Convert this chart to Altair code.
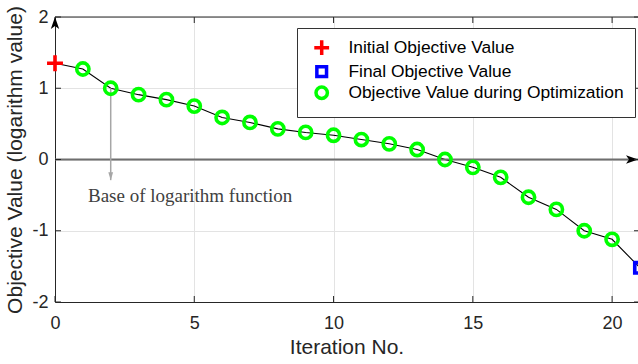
import altair as alt
import pandas as pd

iterations = list(range(22))
objective = [1.35, 1.27, 1.00, 0.91, 0.84, 0.75, 0.59, 0.52, 0.43, 0.38, 0.34,
             0.28, 0.22, 0.14, 0.00, -0.11, -0.25, -0.53, -0.70, -1.00, -1.12, -1.52]
series_names = ["Initial Objective Value", "Final Objective Value",
                "Objective Value during Optimization"]
x_ticks = [0, 5, 10, 15, 20]
y_ticks = [-2, -1, 0, 1, 2]
x_domain = [0, 20.93]
y_domain = [-2, 2]

# annotation values
base_arrow_x = [2]
base_arrow_y = [1.0, -0.29]
base_text = ["Base of logarithm function"]
base_text_xy = [4.85, -0.51]
zero_arrow_x = [0, 20.93]

font = "Liberation Sans"
axis_col = "#262626"

def series_of(i):
    if i == 0:
        return series_names[0]
    if i == len(iterations) - 1:
        return series_names[1]
    return series_names[2]

df = pd.DataFrame({"iter": iterations, "obj": objective,
                   "series": [series_of(i) for i in iterations]})

xs = alt.Scale(domain=x_domain, nice=False, zero=False)
ys = alt.Scale(domain=y_domain, nice=False)

W, H = 583, 285

base = alt.Chart(df)

line = base.mark_line(color="black", strokeWidth=1.1).encode(
    x=alt.X("iter:Q", scale=xs,
            axis=alt.Axis(values=x_ticks, title="Iteration No.", grid=True,
                          labelExpr="toString(datum.value)", labelFlush=False,
                          gridColor="#e3e3e3", tickSize=0, domainColor=axis_col,
                          labelFont=font, labelFontSize=18, labelColor=axis_col,
                          titleFont=font, titleFontSize=21, titleColor=axis_col,
                          titleFontWeight="normal", labelPadding=12, titlePadding=4)),
    y=alt.Y("obj:Q", scale=ys,
            axis=alt.Axis(values=y_ticks, title="Objective Value (logarithm value)",
                          grid=True, labelExpr="toString(datum.value)",
                          labelFlush=False, gridColor="#e3e3e3", tickSize=0,
                          domainColor=axis_col, labelFont=font, labelFontSize=18,
                          labelColor=axis_col, titleFont=font, titleFontSize=21,
                          titleColor=axis_col, titleFontWeight="normal",
                          labelPadding=7, titlePadding=6)),
)

plus_path = "M-1.3,0L1.3,0M0,-1.3L0,1.3"
square_path = "M-0.85,-0.85L0.85,-0.85L0.85,0.85L-0.85,0.85Z"

points = base.mark_point(filled=False, strokeWidth=3.6, size=150, opacity=1).encode(
    x=alt.X("iter:Q", scale=xs),
    y=alt.Y("obj:Q", scale=ys),
    color=alt.Color("series:N",
                    scale=alt.Scale(domain=series_names,
                                    range=["#ff0000", "#0000ff", "#00ff00"]),
                    legend=alt.Legend(title=None, orient="none", legendX=242, legendY=11,
                                      fillColor="white", strokeColor="#333333",
                                      padding=11, labelFont=font, labelFontSize=17.4,
                                      labelColor="black", symbolStrokeWidth=3.5,
                                      symbolSize=130, rowPadding=-5.5, labelOffset=18,
                                      symbolOffset=5, labelLimit=400)),
    shape=alt.Shape("series:N",
                    scale=alt.Scale(domain=series_names,
                                    range=[plus_path, square_path, "circle"])),
)

# zero arrow
zdf = pd.DataFrame({"x": [zero_arrow_x[0]], "x2": [zero_arrow_x[1]], "y": [0]})
zero_line = alt.Chart(zdf).mark_rule(color="#6e6e6e", strokeWidth=2).encode(
    x=alt.X("x:Q", scale=xs), x2="x2:Q", y=alt.Y("y:Q", scale=ys))
zero_head = alt.Chart(zdf).mark_point(
    shape="M0,0L-2,-0.7L-1.5,0L-2,0.7Z", filled=True, color="black", size=144,
    opacity=1).encode(x=alt.X("x2:Q", scale=xs), y=alt.Y("y:Q", scale=ys))

# y axis arrow head at top
ydf = pd.DataFrame({"x": [x_domain[0]], "y": [y_domain[1]]})
y_head = alt.Chart(ydf).mark_point(
    shape="M0,0L-0.7,2L0,1.5L0.7,2Z", filled=True, color="black", size=144,
    opacity=1).encode(x=alt.X("x:Q", scale=xs), y=alt.Y("y:Q", scale=ys))

# gray base arrow
bdf = pd.DataFrame({"x": base_arrow_x, "y": [base_arrow_y[0]], "y2": [base_arrow_y[1]]})
base_line = alt.Chart(bdf).mark_rule(color="#a6a6a6", strokeWidth=1.5).encode(
    x=alt.X("x:Q", scale=xs), y=alt.Y("y:Q", scale=ys), y2="y2:Q")
base_head = alt.Chart(bdf).mark_point(
    shape="M0,0L-0.6,-2L0.6,-2Z", filled=True, color="#a6a6a6", size=64,
    opacity=1).encode(x=alt.X("x:Q", scale=xs), y=alt.Y("y2:Q", scale=ys))

tdf = pd.DataFrame({"x": [base_text_xy[0]], "y": [base_text_xy[1]], "t": base_text})
base_label = alt.Chart(tdf).mark_text(font="Liberation Serif", fontSize=19,
                                      color="#404040", align="center",
                                      baseline="middle").encode(
    x=alt.X("x:Q", scale=xs), y=alt.Y("y:Q", scale=ys), text="t:N")

# inward ticks and top border
xt = pd.DataFrame({"v": x_ticks})
yt = pd.DataFrame({"v": y_ticks})
bottom_ticks = alt.Chart(xt).mark_rule(color=axis_col).encode(
    x=alt.X("v:Q", scale=xs), y=alt.value(H), y2=alt.value(H - 6))
top_ticks = alt.Chart(xt).mark_rule(color=axis_col).encode(
    x=alt.X("v:Q", scale=xs), y=alt.value(0), y2=alt.value(6))
left_ticks = alt.Chart(yt).mark_rule(color=axis_col).encode(
    y=alt.Y("v:Q", scale=ys), x=alt.value(0), x2=alt.value(6))
right_ticks = alt.Chart(yt).mark_rule(color=axis_col).encode(
    y=alt.Y("v:Q", scale=ys), x=alt.value(W + 2), x2=alt.value(W - 4))
top_border = alt.Chart(ydf).mark_rule(color=axis_col).encode(
    y=alt.Y("y:Q", scale=ys), x=alt.value(0), x2=alt.value(W + 5))

chart = alt.layer(
    line, zero_line, zero_head, base_line, base_head, base_label,
    bottom_ticks, top_ticks, left_ticks, right_ticks, top_border, y_head, points,
).properties(
    width=W, height=H, autosize=alt.AutoSizeParams(type="none"),
    padding={"left": 55, "top": 17, "right": 0, "bottom": 62},
).configure_view(stroke=None).configure(background="white")

chart.save("out.html", embed_options={"renderer": "svg", "actions": False})
